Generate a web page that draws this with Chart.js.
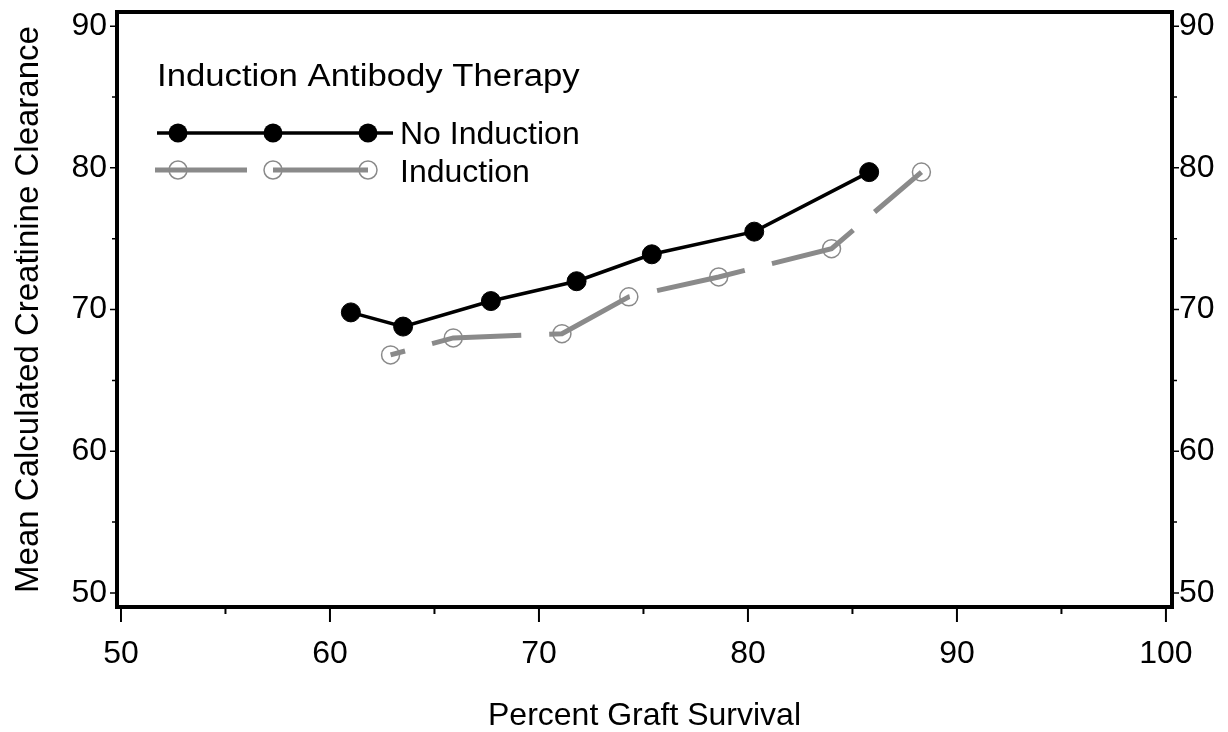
<!DOCTYPE html>
<html>
<head>
<meta charset="utf-8">
<script src="https://cdn.jsdelivr.net/npm/chart.js@4"></script>
<style>
  html, body { margin: 0; padding: 0; background: #fff; }
  #wrap { width: 1228px; height: 732px; }
</style>
</head>
<body>
<div id="wrap"><canvas id="graftChart" width="1228" height="732"></canvas></div>
<script>
// ---- data ----
const noInductionX = [61.0, 63.5, 67.7, 71.8, 75.4, 80.3, 85.8];
const noInductionY = [69.8, 68.8, 70.6, 72.0, 73.9, 75.5, 79.7];
const inductionX = [62.9, 65.9, 71.1, 74.3, 78.6, 84.0, 88.3];
const inductionY = [66.8, 68.0, 68.3, 70.9, 72.3, 74.3, 79.7];
const xTicks = [50, 60, 70, 80, 90, 100];
const yTicks = [50, 60, 70, 80, 90];
const legendTitle = 'Induction Antibody Therapy';
const seriesNames = ['No Induction', 'Induction'];

const FONT = "'Liberation Sans', Arial, sans-serif";
const GREY = '#8a8a8a';

function toPoints(xs, ys) {
    return xs.map(function(x, i) { return { x: x, y: ys[i] }; });
}

function noEdgePadding(scale) {
    scale.paddingTop = 0;
    scale.paddingBottom = 0;
    scale.paddingLeft = 0;
    scale.paddingRight = 0;
}

// frame, tick marks and the in-plot legend
const framePlugin = {
    id: 'frame',
    afterDraw: function(chart) {
        const ctx = chart.ctx;
        const a = chart.chartArea;
        const xs = chart.scales.x;
        const yl = chart.scales.y;
        ctx.save();
        ctx.strokeStyle = '#000';
        ctx.lineWidth = 4;
        ctx.strokeRect(a.left, a.top, a.right - a.left, a.bottom - a.top);

        // x ticks (major + minor)
        ctx.lineWidth = 2;
        for (let v = 50; v <= 100; v += 5) {
            const px = xs.getPixelForValue(v);
            const len = (v % 10 === 0) ? 13 : 5;
            ctx.beginPath();
            ctx.moveTo(px, a.bottom + 2);
            ctx.lineTo(px, a.bottom + 2 + len);
            ctx.stroke();
        }
        // y ticks on both sides
        ctx.lineWidth = 1.5;
        for (let v = 50; v <= 90; v += 5) {
            const py = yl.getPixelForValue(v);
            const len = (v % 10 === 0) ? 5 : 3;
            ctx.beginPath();
            ctx.moveTo(a.left - 2, py);
            ctx.lineTo(a.left - 2 - len, py);
            ctx.moveTo(a.right + 2, py);
            ctx.lineTo(a.right + 2 + len, py);
            ctx.stroke();
        }

        // legend title (drawn a little wide, like the original)
        ctx.fillStyle = '#000';
        ctx.textAlign = 'left';
        ctx.save();
        ctx.translate(157, 86);
        ctx.scale(1.12, 1);
        ctx.font = '31px ' + FONT;
        ctx.textBaseline = 'alphabetic';
        ctx.fillText(legendTitle, 0, 0);
        ctx.restore();

        ctx.font = '32px ' + FONT;
        ctx.textBaseline = 'middle';
        const lx = [178, 273, 368];
        // No Induction
        ctx.strokeStyle = '#000';
        ctx.lineWidth = 3.5;
        ctx.beginPath();
        ctx.moveTo(157, 133);
        ctx.lineTo(393, 133);
        ctx.stroke();
        lx.forEach(function(x) {
            ctx.beginPath();
            ctx.arc(x, 133, 9.5, 0, Math.PI * 2);
            ctx.fill();
        });
        ctx.fillText(seriesNames[0], 400, 135);

        // Induction
        ctx.strokeStyle = GREY;
        ctx.lineWidth = 5;
        ctx.beginPath();
        ctx.moveTo(155, 170);
        ctx.lineTo(247, 170);
        ctx.moveTo(273, 170);
        ctx.lineTo(368, 170);
        ctx.stroke();
        ctx.lineWidth = 1.5;
        lx.forEach(function(x) {
            ctx.beginPath();
            ctx.arc(x, 170, 9, 0, Math.PI * 2);
            ctx.stroke();
        });
        ctx.fillText(seriesNames[1], 400, 173);
        ctx.restore();
    }
};

const ctx = document.getElementById('graftChart').getContext('2d');
new Chart(ctx, {
    type: 'scatter',
    data: {
        datasets: [
            {
                label: seriesNames[0],
                data: toPoints(noInductionX, noInductionY),
                showLine: true,
                borderColor: '#000',
                borderWidth: 3.5,
                pointRadius: 9.5,
                pointBackgroundColor: '#000',
                pointBorderColor: '#000',
                pointBorderWidth: 1,
                yAxisID: 'y'
            },
            {
                label: seriesNames[1],
                data: toPoints(inductionX, inductionY),
                showLine: true,
                borderColor: GREY,
                borderWidth: 5,
                borderDash: [90, 28],
                borderDashOffset: 75,
                pointRadius: 9,
                pointBackgroundColor: 'rgba(0,0,0,0)',
                pointBorderColor: GREY,
                pointBorderWidth: 1.5,
                yAxisID: 'y'
            }
        ]
    },
    options: {
        responsive: false,
        animation: false,
        layout: { padding: { top: 12, right: 0, bottom: 0, left: 0 } },
        plugins: {
            legend: { display: false },
            tooltip: { enabled: false }
        },
        scales: {
            x: {
                type: 'linear',
                position: 'bottom',
                min: 49.81,
                max: 100.29,
                afterBuildTicks: function(scale) {
                    scale.ticks = xTicks.map(function(v) { return { value: v }; });
                },
                afterFit: function(scale) { scale.height = 125; noEdgePadding(scale); },
                grid: { display: false, drawTicks: false },
                border: { display: false },
                ticks: {
                    color: '#000',
                    padding: 28,
                    maxRotation: 0,
                    font: { family: FONT, size: 32 }
                },
                title: {
                    display: true,
                    text: 'Percent Graft Survival',
                    color: '#000',
                    padding: { top: 0, bottom: -3 },
                    font: { family: FONT, size: 32 }
                }
            },
            y: {
                type: 'linear',
                position: 'left',
                min: 49.01,
                max: 91.0,
                afterBuildTicks: function(scale) {
                    scale.ticks = yTicks.map(function(v) { return { value: v }; });
                },
                afterFit: function(scale) { scale.width = 117; noEdgePadding(scale); },
                grid: { display: false, drawTicks: false },
                border: { display: false },
                ticks: {
                    color: '#000',
                    padding: 10,
                    font: { family: FONT, size: 32 }
                },
                title: {
                    display: true,
                    text: 'Mean Calculated Creatinine Clearance',
                    color: '#000',
                    padding: { top: 9, bottom: 0 },
                    font: { family: FONT, size: 33 }
                }
            },
            y2: {
                type: 'linear',
                position: 'right',
                min: 49.01,
                max: 91.0,
                afterBuildTicks: function(scale) {
                    scale.ticks = yTicks.map(function(v) { return { value: v }; });
                },
                afterFit: function(scale) { scale.width = 56; noEdgePadding(scale); },
                grid: { display: false, drawTicks: false },
                border: { display: false },
                ticks: {
                    color: '#000',
                    padding: 7,
                    font: { family: FONT, size: 32 }
                }
            }
        }
    },
    plugins: [framePlugin]
});
</script>
</body>
</html>
